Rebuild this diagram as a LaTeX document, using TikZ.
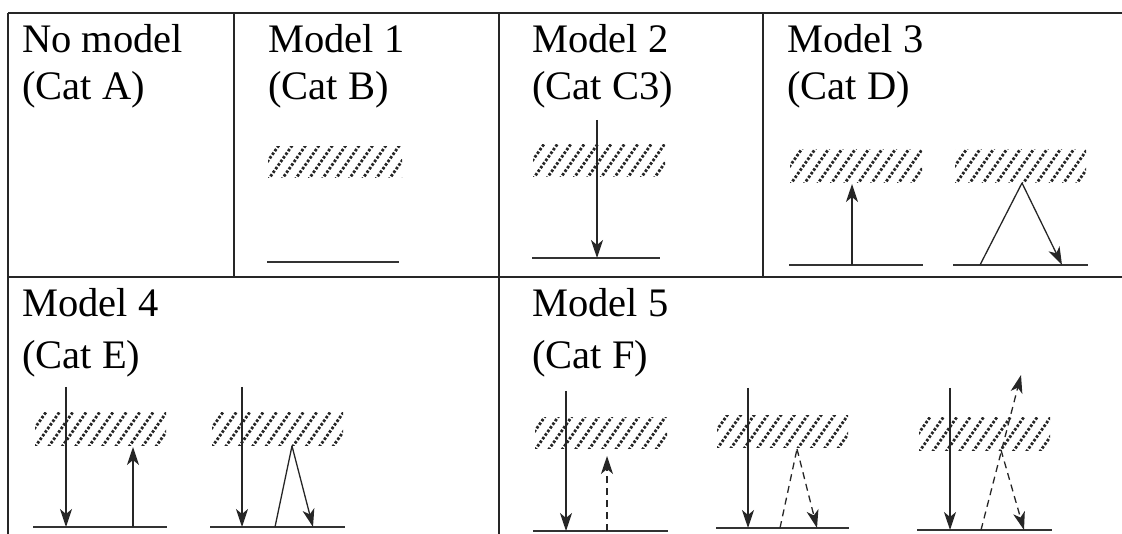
\documentclass[tikz,border=0pt]{standalone}
\usepackage{fontspec}
\setmainfont{Liberation Serif}
\usetikzlibrary{arrows.meta}
\tikzset{
  border/.style={line width=1.8pt, black!85},
  ground/.style={line width=1.5pt, black!80},
  ray/.style={line width=1.3pt, black!85, -{Stealth[length=18pt,width=12pt,inset=5pt]}},
  rayplain/.style={line width=1.3pt, black!85},
  dray/.style={ray, dash pattern=on 7pt off 5pt},
  drayplain/.style={rayplain, dash pattern=on 7pt off 5pt},
  hatchline/.style={line width=2.8pt, black!85, dash pattern=on 2.6pt off 1.8pt},
  lab/.style={anchor=base west, inner sep=0pt, font=\fontsize{40.5}{47}\selectfont}
}
\newcommand{\hatchbox}[4]{%
  \begin{scope}
    \clip (#1,#2) rectangle (#3,#4);
    \foreach \k in {-3,...,12} {
      \draw[hatchline] ({#1+\k*13.4},{#4+2}) -- ({#1+\k*13.4+0.7*(#4-#2+4)},{#2-2});
    }
  \end{scope}}
\begin{document}
\begin{tikzpicture}[x=1pt,y=-1pt]
\useasboundingbox (0,0) rectangle (1122,534);
% table
\coordinate (tl) at (8,13); \coordinate (tr) at (1122,13);
\coordinate (ml) at (8,277); \coordinate (mr) at (1122,277);
\coordinate (bl) at (8,534);
\coordinate (v1t) at (234,13); \coordinate (v1b) at (234,277);
\coordinate (v2t) at (499,13); \coordinate (v2b) at (499,534);
\coordinate (v3t) at (763,13); \coordinate (v3b) at (763,277);
\draw[border] (tl) -- (tr);
\draw[border] (ml) -- (mr);
\draw[border] (tl) -- (bl);
\draw[border] (v1t) -- (v1b);
\draw[border] (v2t) -- (v2b);
\draw[border] (v3t) -- (v3b);
% labels
\node[lab] (a1) at (22,53) {No model};
\node[lab] (a2) at (22,100) {(Cat A)};
\node[lab] (b1) at (268,53) {Model 1};
\node[lab] (b2) at (268,100) {(Cat B)};
\node[lab] (c1) at (532,53) {Model 2};
\node[lab] (c2) at (532,100) {(Cat C3)};
\node[lab] (d1) at (787,53) {Model 3};
\node[lab] (d2) at (787,100) {(Cat D)};
\node[lab] (e1) at (22,317) {Model 4};
\node[lab] (e2) at (22,369) {(Cat E)};
\node[lab] (f1) at (532,317) {Model 5};
\node[lab] (f2) at (532,369) {(Cat F)};
% hatch boxes
\hatchbox{268}{147}{402}{178}
\hatchbox{533}{145}{665}{177}
\hatchbox{790}{150}{922}{183}
\hatchbox{955}{150}{1086}{183}
\hatchbox{35}{413}{166}{445}
\hatchbox{212}{413}{343}{445}
\hatchbox{535}{418}{667}{448}
\hatchbox{717}{416}{848}{447}
\hatchbox{919}{418}{1050}{450}
% Model 1
\coordinate (g1l) at (267,262); \coordinate (g1r) at (399,262);
\draw[ground] (g1l) -- (g1r);
% Model 2
\coordinate (g2l) at (532,258); \coordinate (g2r) at (660,258);
\coordinate (r2s) at (597,120); \coordinate (r2e) at (597,258);
\draw[ground] (g2l) -- (g2r);
\draw[ray] (r2s) -- (r2e);
% Model 3a
\coordinate (g3l) at (789,265); \coordinate (g3r) at (923,265);
\coordinate (r3s) at (852,265); \coordinate (r3e) at (852,184);
\draw[ground] (g3l) -- (g3r);
\draw[ray] (r3s) -- (r3e);
% Model 3b
\coordinate (g4l) at (953,265); \coordinate (g4r) at (1088,265);
\coordinate (v4s) at (980,265); \coordinate (v4a) at (1022,183); \coordinate (v4e) at (1062,265);
\draw[ground] (g4l) -- (g4r);
\draw[rayplain] (v4s) -- (v4a);
\draw[ray] (v4a) -- (v4e);
% Model 4a
\coordinate (g5l) at (33,527); \coordinate (g5r) at (167,527);
\coordinate (d5s) at (66,387); \coordinate (d5e) at (66,527);
\coordinate (u5s) at (133,527); \coordinate (u5e) at (133,447);
\draw[ground] (g5l) -- (g5r);
\draw[ray] (d5s) -- (d5e);
\draw[ray] (u5s) -- (u5e);
% Model 4b
\coordinate (g6l) at (210,527); \coordinate (g6r) at (345,527);
\coordinate (d6s) at (242,387); \coordinate (d6e) at (242,527);
\coordinate (v6s) at (275,527); \coordinate (v6a) at (292,446); \coordinate (v6e) at (313,527);
\draw[ground] (g6l) -- (g6r);
\draw[ray] (d6s) -- (d6e);
\draw[rayplain] (v6s) -- (v6a);
\draw[ray] (v6a) -- (v6e);
% Model 5a
\coordinate (g7l) at (533,531); \coordinate (g7r) at (668,531);
\coordinate (d7s) at (566,391); \coordinate (d7e) at (566,531);
\coordinate (u7s) at (607,531); \coordinate (u7e) at (607,456);
\draw[ground] (g7l) -- (g7r);
\draw[ray] (d7s) -- (d7e);
\draw[dray] (u7s) -- (u7e);
% Model 5b
\coordinate (g8l) at (716,528); \coordinate (g8r) at (849,528);
\coordinate (d8s) at (748,388); \coordinate (d8e) at (748,528);
\coordinate (v8s) at (780,528); \coordinate (v8a) at (797,449); \coordinate (v8e) at (817,528);
\draw[ground] (g8l) -- (g8r);
\draw[ray] (d8s) -- (d8e);
\draw[drayplain] (v8s) -- (v8a);
\draw[dray] (v8a) -- (v8e);
% Model 5c
\coordinate (g9l) at (917,530); \coordinate (g9r) at (1052,530);
\coordinate (d9s) at (950,388); \coordinate (d9e) at (950,530);
\coordinate (v9s) at (981,530); \coordinate (v9a) at (1001,450); \coordinate (v9e) at (1024,530);
\coordinate (v9t) at (1021,375);
\draw[ground] (g9l) -- (g9r);
\draw[ray] (d9s) -- (d9e);
\draw[dray] (v9s) -- (v9t);
\draw[dray] (v9a) -- (v9e);
\end{tikzpicture}
\end{document}
